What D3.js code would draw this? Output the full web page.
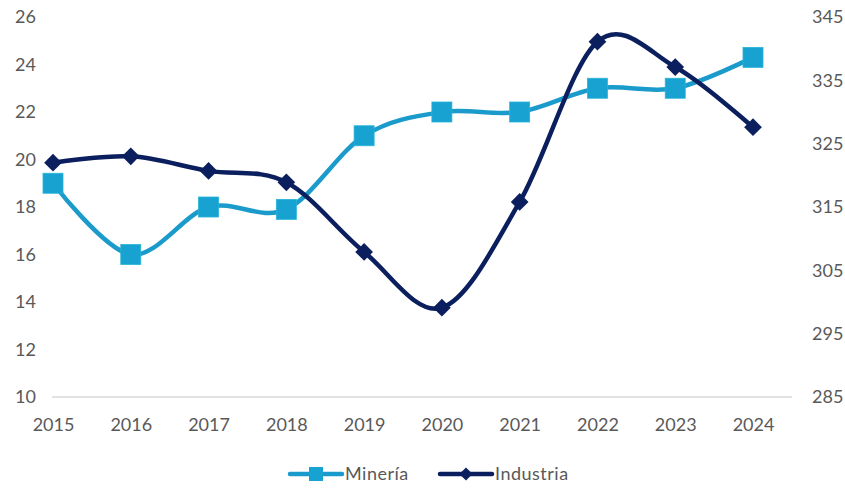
<!DOCTYPE html>
<html>
<head>
<meta charset="utf-8">
<script src="https://cdn.jsdelivr.net/npm/d3@7"></script>
<style>
  html, body { margin: 0; padding: 0; background: #fff; }
  svg { display: block; }
  text { font-family: Lato, "Open Sans", sans-serif; fill: #595959; }
</style>
</head>
<body>
<svg id="chart" width="845" height="489"></svg>
<script>
const years = ["2015","2016","2017","2018","2019","2020","2021","2022","2023","2024"];
const mineria = [19, 16, 18, 17.9, 21, 22, 22, 23, 23, 24.3];
const industria = [322, 323, 320.7, 318.9, 307.9, 299.1, 315.8, 341.1, 337.1, 327.6];
const leftTicks = [10, 12, 14, 16, 18, 20, 22, 24, 26];
const rightTicks = [285, 295, 305, 315, 325, 335, 345];
const seriesNames = ["Minería", "Industria"];

const svg = d3.select("#chart");
const colMin = "#1a9bcb";
const colMinMarker = "#17a2d2";
const colInd = "#0b1f5e";

const x = d3.scalePoint().domain(years).range([53, 753]);
const yL = d3.scaleLinear().domain([10, 26]).range([397, 17]);
const yR = d3.scaleLinear().domain([285, 345]).range([397, 17]);
const plotRight = 792;

// baseline
svg.append("line")
  .attr("x1", 52).attr("x2", plotRight)
  .attr("y1", yL(10)).attr("y2", yL(10))
  .attr("stroke", "#d9d9d9").attr("stroke-width", 1.5);

// left axis
const gL = svg.append("g").attr("transform", "translate(36,0)")
  .call(d3.axisLeft(yL).tickValues(leftTicks).tickSize(0).tickPadding(0));
gL.select(".domain").remove();
gL.selectAll("text").style("font-size", "18px").attr("fill", "#595959");

// right axis
const gR = svg.append("g").attr("transform", "translate(812,0)")
  .call(d3.axisRight(yR).tickValues(rightTicks).tickSize(0).tickPadding(0));
gR.select(".domain").remove();
gR.selectAll("text").style("font-size", "18px").attr("fill", "#595959");

// x axis
const gX = svg.append("g").attr("transform", "translate(0,418)")
  .call(d3.axisBottom(x).tickSize(0).tickPadding(0));
gX.select(".domain").remove();
gX.selectAll("text").style("font-size", "18px").attr("fill", "#595959").attr("dy", "0.71em");

const curve = d3.curveCardinal.tension(0);

// Minería
const lineMin = d3.line().x((d, i) => x(years[i])).y(d => yL(d)).curve(curve);
svg.append("path").datum(mineria)
  .attr("d", lineMin).attr("fill", "none")
  .attr("stroke", colMin).attr("stroke-width", 4.5).attr("stroke-linejoin", "round");
svg.append("g").selectAll("rect").data(mineria).join("rect")
  .attr("x", (d, i) => x(years[i]) - 10).attr("y", d => yL(d) - 10)
  .attr("width", 20).attr("height", 20)
  .attr("fill", colMinMarker).attr("stroke", "#27b5d8").attr("stroke-width", 0.8);

// Industria
const lineInd = d3.line().x((d, i) => x(years[i])).y(d => yR(d)).curve(curve);
svg.append("path").datum(industria)
  .attr("d", lineInd).attr("fill", "none")
  .attr("stroke", colInd).attr("stroke-width", 4.5).attr("stroke-linejoin", "round");
const diamond = d3.symbol().type(d3.symbolDiamond2).size(200);
svg.append("g").selectAll("path").data(industria).join("path")
  .attr("d", diamond)
  .attr("transform", (d, i) => `translate(${x(years[i])},${yR(d)})`)
  .attr("fill", colInd);

// legend
const legend = svg.append("g");
const legItems = [
  { name: seriesNames[0], color: colMin, marker: "square", x0: 290 },
  { name: seriesNames[1], color: colInd, marker: "diamond", x0: 440 }
];
const ly = 474;
legItems.forEach(it => {
  legend.append("line").attr("x1", it.x0).attr("x2", it.x0 + 52)
    .attr("y1", ly).attr("y2", ly)
    .attr("stroke", it.color).attr("stroke-width", 4.5).attr("stroke-linecap", "round");
  if (it.marker === "square") {
    legend.append("rect").attr("x", it.x0 + 26 - 7).attr("y", ly - 7)
      .attr("width", 14).attr("height", 14).attr("fill", colMinMarker);
  } else {
    legend.append("path").attr("d", d3.symbol().type(d3.symbolDiamond2).size(110))
      .attr("transform", `translate(${it.x0 + 26},${ly})`).attr("fill", it.color);
  }
  legend.append("text").attr("x", it.x0 + 55).attr("y", ly).attr("dy", "0.35em")
    .style("font-size", "18px").style("letter-spacing", "0.5px").text(it.name);
});
</script>
</body>
</html>
